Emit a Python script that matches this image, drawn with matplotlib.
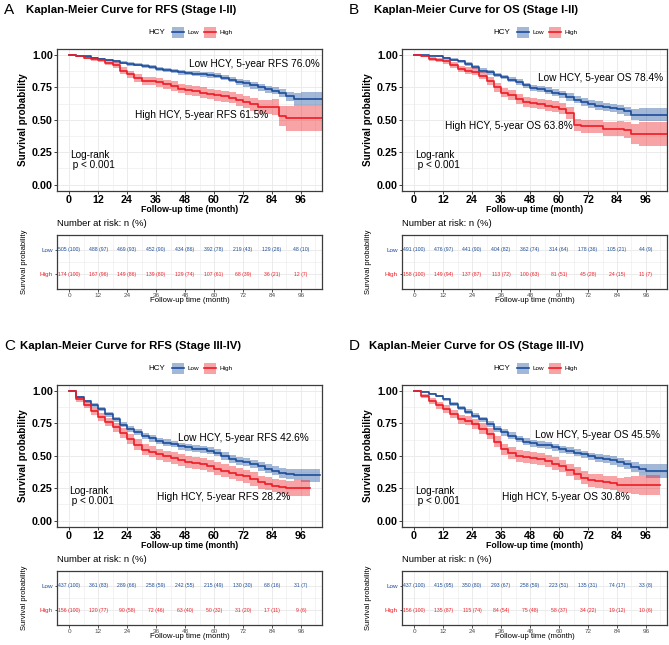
import matplotlib
matplotlib.use("Agg")
import matplotlib.pyplot as plt
from matplotlib.patches import Rectangle
import numpy as np

plt.rcParams['font.family'] = ['Liberation Sans', 'DejaVu Sans']

# ---- values ----
months = [0, 3, 6, 9, 12, 15, 18, 21, 24, 27, 30, 33, 36, 39, 42, 45, 48,
          51, 54, 57, 60, 63, 66, 69, 72, 75, 78, 81, 84, 87, 90, 93, 96]
risk_times = [0, 12, 24, 36, 48, 60, 72, 84, 96]

# A: RFS stage I-II
a_low_surv = [1.00, .995, .99, .98, .97, .96, .95, .94, .93, .925, .915, .905, .895, .885, .875, .865, .86,
              .855, .85, .845, .84, .825, .81, .795, .78, .765, .75, .735, .725, .705, .68, .66, .66]
a_low_ci = [0, .003, .005, .007, .008, .009, .010, .011, .012, .013, .014, .015, .016, .017, .017, .018, .018,
            .019, .019, .020, .020, .021, .022, .023, .024, .025, .027, .029, .030, .033, .038, .050, .055]
a_high_surv = [1.0, .99, .98, .97, .96, .94, .92, .88, .85, .82, .80, .80, .79, .775, .76, .74, .73,
               .72, .71, .70, .69, .68, .67, .65, .635, .62, .60, .60, .60, .53, .51, .51, .51]
a_high_ci = [0, .008, .012, .015, .018, .020, .023, .026, .028, .030, .032, .033, .034, .035, .036, .037, .038,
             .039, .040, .041, .042, .043, .044, .046, .048, .050, .053, .056, .060, .080, .095, .10, .10]
a_low_end, a_high_end = 104.5, 104.5
a_low_n = [505, 488, 469, 452, 434, 392, 219, 129, 48]
a_low_pct = [100, 97, 93, 90, 86, 78, 43, 26, 10]
a_high_n = [174, 167, 149, 139, 129, 107, 68, 36, 12]
a_high_pct = [100, 96, 86, 80, 74, 61, 39, 21, 7]

# B: OS stage I-II
b_low_surv = [1.0, 1.0, .995, .99, .98, .965, .95, .93, .905, .88, .865, .845, .83, .81, .79, .765, .745,
              .735, .725, .71, .695, .675, .655, .635, .62, .61, .60, .59, .58, .565, .54, .54, .54]
b_low_ci = [0, .002, .004, .006, .008, .01, .012, .013, .015, .016, .017, .018, .019, .02, .021, .022, .023,
            .024, .025, .026, .027, .028, .029, .03, .031, .032, .033, .034, .035, .037, .045, .05, .05]
b_high_surv = [1.0, .99, .97, .96, .95, .92, .89, .88, .87, .84, .80, .75, .71, .69, .66, .64, .63,
               .62, .61, .60, .585, .55, .46, .45, .45, .45, .43, .43, .43, .42, .39, .39, .39]
b_high_ci = [0, .008, .014, .016, .018, .022, .025, .026, .027, .029, .031, .033, .035, .036, .037, .038, .039,
             .04, .041, .042, .043, .045, .048, .05, .05, .051, .053, .055, .057, .06, .075, .09, .09]
b_low_end, b_high_end = 105, 105
b_low_n = [491, 476, 441, 404, 362, 314, 178, 105, 44]
b_low_pct = [100, 97, 90, 82, 74, 64, 36, 21, 9]
b_high_n = [158, 149, 137, 113, 100, 81, 45, 24, 11]
b_high_pct = [100, 94, 87, 72, 63, 51, 28, 15, 7]

# C: RFS stage III-IV
c_low_surv = [1.0, .955, .92, .89, .86, .82, .78, .74, .705, .68, .655, .635, .615, .60, .59, .575, .565,
              .555, .55, .54, .525, .50, .475, .46, .45, .435, .42, .40, .385, .37, .36, .355, .35]
c_low_ci = [0, .01, .013, .015, .017, .019, .02, .021, .022, .023, .024, .025, .025, .026, .026, .027, .027,
            .028, .028, .029, .029, .03, .03, .031, .032, .033, .034, .035, .036, .038, .04, .045, .05]
c_high_surv = [1.0, .935, .89, .845, .80, .76, .72, .675, .63, .585, .545, .53, .51, .495, .48, .465, .45,
               .445, .435, .42, .40, .385, .37, .355, .34, .32, .295, .285, .27, .26, .25, .25, .25]
c_high_ci = [0, .018, .024, .028, .031, .034, .036, .038, .04, .041, .042, .043, .044, .045, .046, .046, .047,
             .047, .048, .048, .049, .049, .05, .05, .05, .051, .051, .052, .053, .055, .058, .06, .06]
c_low_end, c_high_end = 104, 99.7
c_low_n = [437, 361, 289, 258, 242, 215, 130, 68, 31]
c_low_pct = [100, 83, 66, 59, 55, 49, 30, 16, 7]
c_high_n = [156, 120, 90, 72, 63, 50, 31, 17, 9]
c_high_pct = [100, 77, 58, 46, 40, 32, 20, 11, 6]

# D: OS stage III-IV
d_low_surv = [1.0, .995, .98, .96, .935, .90, .87, .84, .81, .78, .745, .71, .68, .655, .63, .61, .595,
              .585, .58, .565, .55, .54, .525, .51, .495, .485, .475, .465, .45, .435, .41, .395, .385]
d_low_ci = [0, .004, .007, .01, .012, .015, .017, .019, .02, .021, .022, .023, .024, .025, .025, .026, .026,
            .027, .027, .028, .028, .029, .029, .03, .03, .031, .032, .033, .034, .036, .038, .045, .055]
d_high_surv = [1.0, .96, .92, .89, .86, .82, .78, .77, .745, .71, .67, .61, .55, .52, .50, .49, .485,
               .475, .46, .44, .42, .39, .36, .33, .31, .305, .295, .29, .275, .275, .275, .275, .275]
d_high_ci = [0, .015, .022, .026, .029, .032, .035, .036, .037, .039, .041, .043, .044, .045, .046, .046, .047,
             .047, .048, .048, .049, .05, .05, .05, .05, .051, .052, .053, .055, .06, .07, .075, .075]
d_low_end, d_high_end = 105, 102
d_low_n = [437, 415, 350, 293, 258, 223, 135, 74, 33]
d_low_pct = [100, 95, 80, 67, 59, 51, 31, 17, 8]
d_high_n = [156, 135, 115, 84, 75, 58, 34, 19, 10]
d_high_pct = [100, 87, 74, 54, 48, 37, 22, 12, 6]

BLUE = '#1B4D9A'
RED = '#EE1C25'
GRID = '#EBEBEB'
FRAME = '#3C3C3C'

W, H = 669, 645
fig = plt.figure(figsize=(W / 100, H / 100), dpi=100)


def box(l, r, t, b):
    return [l / W, 1 - b / H, (r - l) / W, (b - t) / H]


ov = fig.add_axes([0, 0, 1, 1])
ov.set_xlim(0, W)
ov.set_ylim(H, 0)
ov.axis('off')


def curve(ax, grp, color):
    surv, ci, end = grp[0], grp[1], grp[2]
    t = months + [end]
    s = np.array(surv + [surv[-1]])
    c = np.array(ci + [ci[-1]])
    lo = s - c
    hi = np.minimum(s + c, 1.0)
    ax.fill_between(t, lo, hi, step='post', color=color, alpha=0.4, lw=0)
    return t, s


def style_frame(ax):
    for sp in ax.spines.values():
        sp.set_color(FRAME)
        sp.set_linewidth(0.9)


def panel(xo, yo, letter, title, low, high, low_lab, high_lab, low_pos, high_pos, lr_pos):
    L, R = 57 + xo, 322 + xo
    ax = fig.add_axes(box(L, R, 48.5 + yo, 191 + yo))
    t1, s1 = curve(ax, low, BLUE)
    t2, s2 = curve(ax, high, RED)
    ax.step(t1, s1, where='post', color=BLUE, lw=1.2)
    ax.step(t2, s2, where='post', color=RED, lw=1.2)
    ax.set_xlim(-5, 104.7)
    ax.set_ylim(-0.05, 1.05)
    ax.set_xticks(risk_times)
    ax.set_xticks([6, 18, 30, 42, 54, 66, 78, 90, 102], minor=True)
    ax.set_yticks([0, 0.25, 0.5, 0.75, 1.0])
    ax.set_yticks([0.125, 0.375, 0.625, 0.875], minor=True)
    ax.set_yticklabels(['0.00', '0.25', '0.50', '0.75', '1.00'])
    ax.grid(True, which='major', color=GRID, lw=0.7)
    ax.grid(True, which='minor', color=GRID, lw=0.4)
    ax.set_axisbelow(True)
    ax.tick_params(which='major', length=2.2, width=0.7, color=FRAME, pad=0.8, labelsize=7.7)
    ax.tick_params(which='minor', length=0)
    for lb in ax.get_xticklabels() + ax.get_yticklabels():
        lb.set_fontweight('bold')
    style_frame(ax)

    ax.text(*low_pos, low_lab, ha='center', va='center', fontsize=7.3)
    ax.text(*high_pos, high_lab, ha='center', va='center', fontsize=7.3)
    ax.text(lr_pos[0], lr_pos[1], 'Log-rank', ha='left', va='center', fontsize=7.2)
    ax.text(lr_pos[0], lr_pos[1] - 0.078, ' p < 0.001', ha='left', va='center', fontsize=7.2)

    # header text
    ov.text(4 + xo, 10 + yo, letter, ha='left', va='center', fontsize=11)
    ov.text(131 + xo, 10 + yo, title, ha='center', va='center', fontsize=8.2, fontweight='bold')
    ov.text(148 + xo, 32 + yo, 'HCY', ha='left', va='center', fontsize=5.8)
    for kx, col, name in [(172, BLUE, 'Low'), (204, RED, 'High')]:
        ov.add_patch(Rectangle((kx + xo, 26.5 + yo), 12, 11, facecolor=col, alpha=0.4, lw=0))
        ov.plot([kx + xo, kx + 12 + xo], [32 + yo, 32 + yo], color=col, lw=1.2)
        ov.text(kx + 15.5 + xo, 32.5 + yo, name, ha='left', va='center', fontsize=4.6)

    ov.text(23 + xo, 120 + yo, 'Survival probability', rotation=90, ha='center', va='center',
            fontsize=7.1, fontweight='bold')
    ov.text((L + R) / 2, 209 + yo, 'Follow-up time (month)', ha='center', va='center',
            fontsize=6.3, fontweight='bold')
    ov.text(L, 224 + yo, 'Number at risk: n (%)', ha='left', va='center', fontsize=6.8)

    # risk table
    tb = fig.add_axes(box(L, R, 235 + yo, 289 + yo))
    tb.set_xlim(-5, 104.7)
    tb.set_ylim(0.4, 2.6)
    tb.set_xticks(risk_times)
    tb.set_xticks([6, 18, 30, 42, 54, 66, 78, 90, 102], minor=True)
    tb.set_yticks([1, 2])
    tb.set_yticks([1.5], minor=True)
    tb.set_yticklabels(['High', 'Low'])
    tb.grid(True, which='major', color=GRID, lw=0.7)
    tb.grid(True, which='minor', color=GRID, lw=0.4)
    tb.set_axisbelow(True)
    tb.tick_params(which='major', length=1.8, width=0.6, color='#333333', pad=1,
                   labelsize=4.6, labelcolor='#4D4D4D')
    tb.tick_params(which='minor', length=0)
    tb.get_yticklabels()[0].set_color(RED)
    tb.get_yticklabels()[1].set_color(BLUE)
    style_frame(tb)
    n_low, p_low, n_high, p_high = low[3], low[4], high[3], high[4]
    for i, tm in enumerate(risk_times):
        tb.text(tm, 2, f'{n_low[i]} ({p_low[i]})', ha='center', va='center', fontsize=3.7, color=BLUE)
        tb.text(tm, 1, f'{n_high[i]} ({p_high[i]})', ha='center', va='center', fontsize=3.7, color=RED)
    ov.text(24 + xo, 262 + yo, 'Survival probability', rotation=90, ha='center', va='center', fontsize=5.5)
    ov.text((L + R) / 2, 301 + yo, 'Follow-up time (month)', ha='center', va='center', fontsize=5.6)


panel(0, 0, 'A', 'Kaplan-Meier Curve for RFS (Stage I-II)',
      (a_low_surv, a_low_ci, a_low_end, a_low_n, a_low_pct),
      (a_high_surv, a_high_ci, a_high_end, a_high_n, a_high_pct),
      'Low HCY, 5-year RFS 76.0%', 'High HCY, 5-year RFS 61.5%',
      (76.5, 0.928), (55, 0.538), (0.3, 0.23))
panel(345, 0, 'B', 'Kaplan-Meier Curve for OS (Stage I-II)',
      (b_low_surv, b_low_ci, b_low_end, b_low_n, b_low_pct),
      (b_high_surv, b_high_ci, b_high_end, b_high_n, b_high_pct),
      'Low HCY, 5-year OS 78.4%', 'High HCY, 5-year OS 63.8%',
      (77, 0.826), (39.2, 0.449), (0.3, 0.23))
panel(0, 336, 'C', 'Kaplan-Meier Curve for RFS (Stage III-IV)',
      (c_low_surv, c_low_ci, c_low_end, c_low_n, c_low_pct),
      (c_high_surv, c_high_ci, c_high_end, c_high_n, c_high_pct),
      'Low HCY, 5-year RFS 42.6%', 'High HCY, 5-year RFS 28.2%',
      (72.3, 0.64), (64, 0.18), (0.0, 0.225))
panel(345, 336, 'D', 'Kaplan-Meier Curve for OS (Stage III-IV)',
      (d_low_surv, d_low_ci, d_low_end, d_low_n, d_low_pct),
      (d_high_surv, d_high_ci, d_high_end, d_high_n, d_high_pct),
      'Low HCY, 5-year OS 45.5%', 'High HCY, 5-year OS 30.8%',
      (76.1, 0.66), (63, 0.18), (0.3, 0.23))

fig.savefig('out.png', dpi=100)
